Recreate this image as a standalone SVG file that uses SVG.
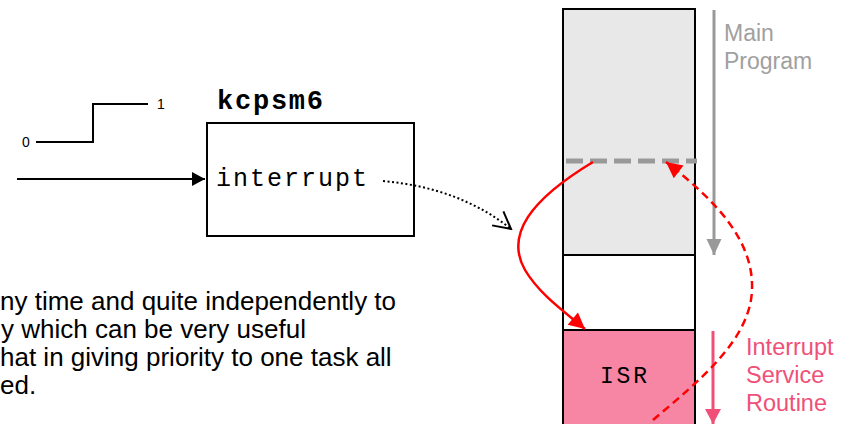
<svg xmlns="http://www.w3.org/2000/svg" width="853" height="424" viewBox="0 0 853 424">
  <style>
    .sans { font-family: "Liberation Sans", Arial, sans-serif; }
    .mono { font-family: "Liberation Mono", "Courier New", monospace; }
    .body { font-size: 26px; fill: #000; }
    .grey { fill: #a0a0a0; font-size: 23px; }
    .pinkt { fill: #f05078; font-size: 23.5px; }
    .small { font-size: 14px; fill: #000; }
    .box { stroke: #000; stroke-width: 2; }
    .red { fill: none; stroke: #ff0000; stroke-width: 2.5; }
  </style>
  <defs>
    <marker id="ah-red" viewBox="-17 -9 18 18" refX="0" refY="0" markerWidth="18" markerHeight="18" markerUnits="userSpaceOnUse" orient="auto">
      <path d="M-16,-8 L0,0 L-16,8 z" fill="#ff0000"/>
    </marker>
    <marker id="ah-open" viewBox="-20 -12 22 24" refX="0" refY="0" markerWidth="22" markerHeight="24" markerUnits="userSpaceOnUse" orient="auto">
      <path d="M-17,-9 L0,0 L-17,9" fill="none" stroke="#000" stroke-width="2"/>
    </marker>
    <marker id="ah-black" viewBox="-14 -8 15 16" refX="0" refY="0" markerWidth="15" markerHeight="16" markerUnits="userSpaceOnUse" orient="auto">
      <path d="M-13,-7 L0,0 L-13,7 z" fill="#000"/>
    </marker>
    <marker id="ah-grey" viewBox="-17 -8 18 16" refX="0" refY="0" markerWidth="18" markerHeight="16" markerUnits="userSpaceOnUse" orient="auto">
      <path d="M-16,-7.5 L0,0 L-16,7.5 z" fill="#999999"/>
    </marker>
    <marker id="ah-pink" viewBox="-17 -9 18 18" refX="0" refY="0" markerWidth="18" markerHeight="18" markerUnits="userSpaceOnUse" orient="auto">
      <path d="M-15,-8 L0,0 L-15,8 z" fill="#f05078"/>
    </marker>
  </defs>

  <rect width="853" height="424" fill="#ffffff"/>

  <!-- step signal -->
  <g id="step-signal">
    <polyline points="36,142 93,142 93,104 148,104" fill="none" stroke="#000" stroke-width="2"/>
    <text class="sans small" x="22" y="147">0</text>
    <text class="sans small" x="157" y="109">1</text>
  </g>

  <!-- kcpsm6 block -->
  <g id="kcpsm6">
    <rect class="box" x="207" y="123" width="207" height="113" fill="#ffffff"/>
    <text class="mono" x="217" y="109" font-size="27" font-weight="bold" textLength="106" lengthAdjust="spacing">kcpsm6</text>
    <text class="mono" x="216" y="186" font-size="25" textLength="151" lengthAdjust="spacing">interrupt</text>
  </g>

  <!-- memory column -->
  <g id="memory">
    <rect x="563" y="9" width="132" height="246" fill="#e8e8e8" class="box"/>
    <rect x="563" y="255" width="132" height="75" fill="#ffffff" class="box"/>
    <rect x="563" y="330" width="132" height="100" fill="#f785a4" class="box"/>
    <line x1="566" y1="161" x2="697" y2="161" stroke="#999999" stroke-width="5" stroke-dasharray="17,7"/>
    <text class="mono" x="600" y="383" font-size="23" textLength="47" lengthAdjust="spacing">ISR</text>
  </g>

  <!-- main program label -->
  <g id="main-program">
    <line x1="714" y1="10" x2="714" y2="255" stroke="#999999" stroke-width="3" marker-end="url(#ah-grey)"/>
    <text class="sans grey" x="724" y="41">Main</text>
    <text class="sans grey" x="724" y="69">Program</text>
  </g>

  <!-- ISR label -->
  <g id="isr-label">
    <line x1="713" y1="331" x2="713" y2="424" stroke="#f05078" stroke-width="3" marker-end="url(#ah-pink)"/>
    <text class="sans pinkt" x="746" y="355">Interrupt</text>
    <text class="sans pinkt" x="746" y="383">Service</text>
    <text class="sans pinkt" x="746" y="411">Routine</text>
  </g>

  <!-- description text -->
  <g id="description">
    <text class="sans body" x="0" y="310">ny time and quite independently to</text>
    <text class="sans body" x="1" y="338">y which can be very useful</text>
    <text class="sans body" x="0" y="366">hat in giving priority to one task all</text>
    <text class="sans body" x="0" y="394">ed.</text>
  </g>

  <!-- connectors -->
  <g id="connectors">
    <line x1="17" y1="179" x2="205" y2="179" stroke="#000" stroke-width="2" marker-end="url(#ah-black)"/>
    <path d="M383,181 Q460,188 511,229" fill="none" stroke="#000" stroke-width="2" stroke-dasharray="2,2.5" marker-end="url(#ah-open)"/>
    <path class="red" d="M593,162 C530,200 505,235 525,270 C540,295 565,312 585,329" marker-end="url(#ah-red)"/>
    <path class="red" d="M653,420 C700,380 750,340 752,290 C754,240 715,200 666,162" stroke-dasharray="8,5" marker-end="url(#ah-red)"/>
  </g>
</svg>
